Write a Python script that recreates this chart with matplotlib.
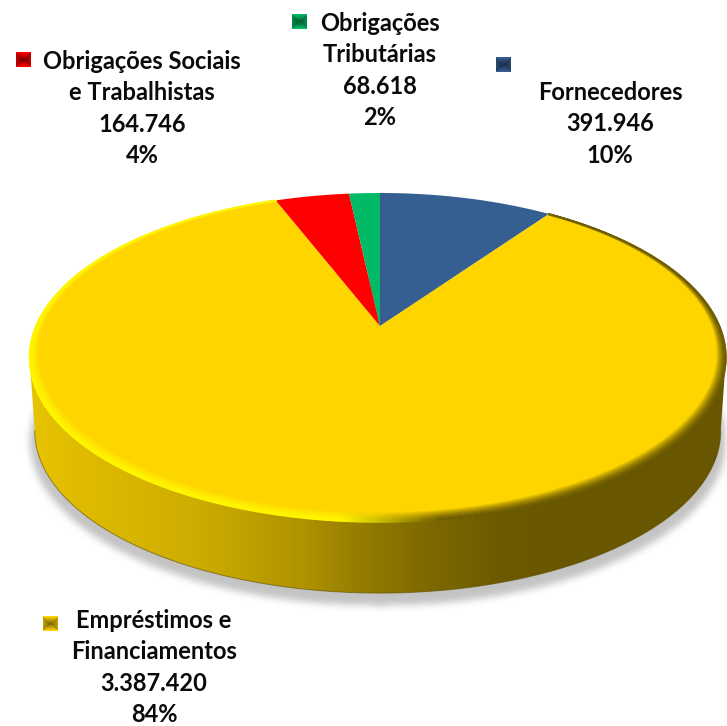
import numpy as np
import matplotlib
matplotlib.use("Agg")
import matplotlib.pyplot as plt
from matplotlib.collections import LineCollection
from matplotlib.patches import Polygon
from matplotlib.path import Path
from matplotlib.transforms import Transform

categories = ["Fornecedores", "Empréstimos e\nFinanciamentos",
              "Obrigações Sociais\ne Trabalhistas", "Obrigações\nTributárias"]
values = [391946, 3387420, 164746, 68618]
colors = ["#365F91", "#FFD500", "#FF0000", "#00BA66"]

# label anchors (px): centre x, first-line baseline y ; key square centre
label_pos = [(610, 100), (154, 628), (142, 69), (380, 31)]
key_pos = [(503, 65), (50, 624), (23, 60), (299, 22)]

W, H = 727, 726
CX, CY, A_L, A_R, K, C = 380.0, 326.0, 344.0, 339.5, 158.5, 0.1915
DY, S = 74.0, 0.985
GOLD = np.array([255, 213, 0]) / 255


def project(u, v, scale=1.0, dy=0.0):
    d = 1 + C * v
    a = np.where(np.asarray(u) < 0, A_L, A_R)
    return CX + scale * a * u / d, CY + dy - scale * K * v / d


class Perspective(Transform):
    input_dims = output_dims = 2
    has_inverse = False
    is_separable = False

    def transform_non_affine(self, xy):
        xy = np.asarray(xy, float)
        x, y = project(xy[:, 0], xy[:, 1])
        return np.column_stack([x, y])

    def transform_path_non_affine(self, path):
        flat = Path(path.vertices * 1000, path.codes).to_polygons(closed_only=False)[0] / 1000
        return Path(self.transform_non_affine(flat), closed=True)


fig = plt.figure(figsize=(W / 100, H / 100), dpi=100)
ax = fig.add_axes([0, 0, 1, 1])

wedges, _ = ax.pie(values, colors=colors, startangle=90, counterclock=False,
                   radius=1, wedgeprops=dict(linewidth=0))
persp = Perspective()
for w in wedges:
    w.set_transform(persp + ax.transData)
    w.set_zorder(5)
    w.set_clip_on(False)

# soft shadow
th = np.linspace(0, 2 * np.pi, 500)
sx, sy = project(np.cos(th), np.sin(th), 1.0, DY + 9)
yy, xx = np.mgrid[0:H, 0:W]
mask = Path(np.column_stack([sx, sy])).contains_points(
    np.column_stack([xx.ravel(), yy.ravel()])).reshape(H, W).astype(float)
kern = np.ones(7) / 7
for _i in range(3):
    mask = np.apply_along_axis(lambda r: np.convolve(r, kern, "same"), 0, mask)
    mask = np.apply_along_axis(lambda r: np.convolve(r, kern, "same"), 1, mask)
shadow = np.zeros((H, W, 4))
shadow[..., :3] = 0.45
shadow[..., 3] = mask * 0.42
ax.imshow(shadow, extent=(0, W, H, 0), aspect="auto", zorder=1, interpolation="bilinear")

# side wall with horizontal gradient
t0 = np.arcsin(-C)
arc = np.linspace(np.pi - t0, 2 * np.pi + t0, 400)
bx, by = project(np.cos(arc), np.sin(arc), S, DY)
tx, ty = project(np.cos(arc[[-1, 0]]), np.sin(arc[[-1, 0]]))
side = Polygon(np.column_stack([np.r_[bx, tx], np.r_[by, ty]]), closed=True,
               transform=ax.transData, facecolor="none", edgecolor="none")
ax.add_patch(side)
grid_x = np.arange(W)
stops = [25, 90, 200, 300, 364, 430, 500, 600, 727]
r = np.interp(grid_x, stops, [232, 222, 204, 176, 148, 125, 108, 104, 104])
g = np.interp(grid_x, stops, [196, 186, 172, 148, 123, 104, 90, 86, 86])
grad = np.stack([r, g, np.zeros_like(r)], axis=-1)[None, :, :] / 255
im = ax.imshow(grad, extent=(0, W, H, 0), aspect="auto", zorder=3)
im.set_clip_path(side)
ax.plot(bx, by, color="#5E4E00", lw=0.7, alpha=0.6, zorder=4)

# bevel rim on the large slice
gold_w = wedges[1]
ang = np.radians(np.linspace(gold_w.theta1, gold_w.theta2, 700))
N = 10
segs, cols = [], []
for i in range(N - 1, -1, -1):
    t = i / (N - 1)
    width = 0.005 + 0.036 * (1 - np.sin(ang)) / 2
    rr = 1 - width * t
    x, y = project(rr * np.cos(ang), rr * np.sin(ang))
    pts = np.column_stack([x, y])
    mix = np.clip((x - 340) / 100, 0, 1)[:, None]
    bright = np.array([255, 246, 0]) / 255
    dark = np.array([110, 92, 0]) / 255
    rim = bright * (1 - mix) + dark * mix
    c = rim * (1 - t ** 1.5) + GOLD * t ** 1.5
    segs.extend(np.stack([pts[:-1], pts[1:]], axis=1))
    cols.extend(c[:-1])
ax.add_collection(LineCollection(segs, colors=cols, linewidths=1.1, zorder=6,
                                 capstyle="round"))

# labels and bevelled keys
total = sum(values)
LH = 31.4
font = dict(family="Lato", fontweight="bold", fontsize=17, color="#0A0A0A",
            ha="center", va="baseline", zorder=8)
for cat, val, (lx, ly), (kx, ky), col in zip(categories, values, label_pos, key_pos, colors):
    lines = cat.split("\n") + [f"{val:,}".replace(",", "."), f"{round(val / total * 100)}%"]
    for j, line in enumerate(lines):
        ax.text(lx, ly + j * LH, line, **font)
    h = 7.5
    base = np.array(matplotlib.colors.to_rgb(col))
    gx = np.linspace(-1, 1, 15)
    dx, dy_ = np.meshgrid(gx, gx)
    shade = np.where(np.abs(dy_) >= np.abs(dx),
                     0.5 + 0.5 * np.abs(dy_), 0.45 + 0.3 * np.abs(dx))[..., None]
    ax.imshow(np.clip(shade * base, 0, 1), extent=(kx - h, kx + h, ky + h, ky - h),
              aspect="auto", zorder=7, interpolation="bilinear")

ax.set_aspect("auto")
ax.set_xlim(0, W)
ax.set_ylim(H, 0)
ax.set_axis_off()
fig.savefig("out.png", dpi=100, facecolor="white")
